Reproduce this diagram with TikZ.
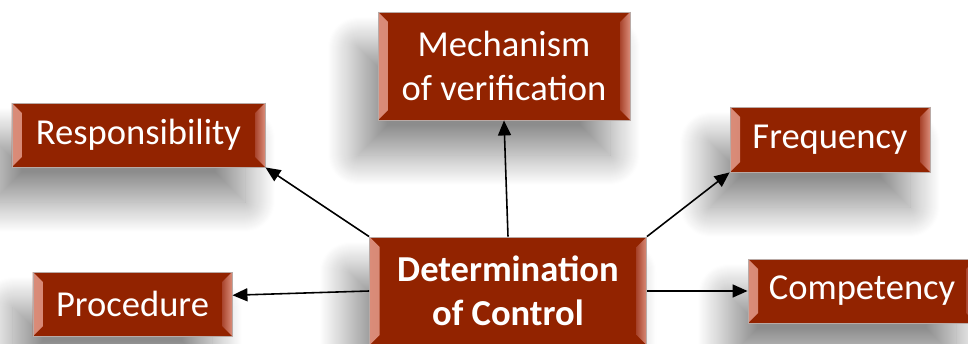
\documentclass[tikz,border=0pt]{standalone}
\usepackage{fontspec}
\setmainfont{Carlito}
\usetikzlibrary{arrows.meta,shadows.blur}
\definecolor{brick}{HTML}{922300}
\definecolor{bevelhi}{HTML}{DA8C79}
\definecolor{bevello}{HTML}{A8442C}
\definecolor{rimgray}{HTML}{B9AAA6}
\begin{document}
\begin{tikzpicture}[x=0.2mm,y=-0.2mm]
            \tikzstyle{ctrlbox}=[rectangle, draw=rimgray, line width=0.5pt, fill=brick, text=white, align=center, inner sep=0pt,
              font=\fontsize{20.8}{25}\selectfont,
              blur shadow={shadow xshift=-4mm, shadow yshift=-7mm, shadow blur radius=6mm, shadow blur steps=30, shadow opacity=45},
              path picture={
                \fill[left color=bevelhi, right color=bevello] (path picture bounding box.north west) -- ++(2mm,-2mm)
                  -- ([shift={(2mm,2mm)}]path picture bounding box.south west) -- (path picture bounding box.south west) -- cycle;
                \fill[left color=bevello, right color=bevelhi] (path picture bounding box.north east) -- ++(-2mm,-2mm)
                  -- ([shift={(-2mm,2mm)}]path picture bounding box.south east) -- (path picture bounding box.south east) -- cycle;
              }]
            \tikzstyle{link}=[-{Triangle[length=3mm,width=2.6mm]}, line width=0.9pt, black]
            \useasboundingbox (0,0) rectangle (968,344);
            % outer boxes
            \node[ctrlbox, minimum width=50.4mm, minimum height=21.6mm] (Mech) at (504,66) {Mechanism\\of verification};
            \node[ctrlbox, minimum width=50.6mm, minimum height=12.8mm] (Resp) at (138.5,135) {Responsibility};
            \node[ctrlbox, minimum width=40mm, minimum height=13mm] (Freq) at (830,139.5) {Frequency};
            \node[ctrlbox, minimum width=39.8mm, minimum height=12.8mm] (Proc) at (132.5,304) {Procedure};
            \node[ctrlbox, minimum width=45.6mm, minimum height=12.8mm] (Comp) at (862,291) {Competency};
            % centre box
            \node[ctrlbox, minimum width=55.4mm, minimum height=21.6mm, font=\fontsize{20.8}{25}\selectfont\bfseries] (Ctrl) at (508,291) {Determination\\of Control};
            \path [link] (Ctrl.north) edge (Mech.south);
            \path [link] (Ctrl.north west) edge (Resp.south east);
            \path [link] (Ctrl.north east) edge (Freq.south west);
            \path [link] (Ctrl.west) edge (Proc.5);
            \path [link] (Ctrl.east) edge (Comp.west);
        \end{tikzpicture}
\end{document}
